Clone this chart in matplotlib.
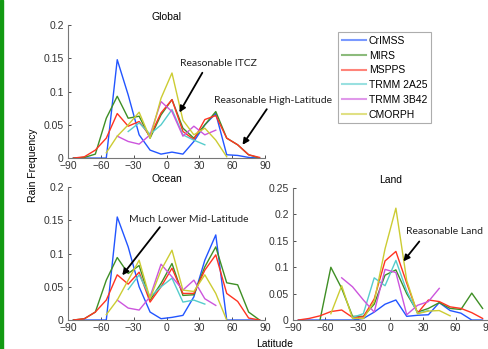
import matplotlib
matplotlib.use("Agg")
import matplotlib.pyplot as plt
from matplotlib.patches import Rectangle
import numpy as np

plt.rcParams["font.family"] = ["Liberation Sans", "DejaVu Sans"]

# Latitude bin centres (10 degree bins)
lat = np.arange(-85, 90, 10)
lat_trmm = np.arange(-35, 40, 10)
lat_3b42 = np.arange(-45, 50, 10)
lat_cmorph = np.arange(-55, 60, 10)

# ---- Global ----
g_crimss = [0, 0, 0, 0, 0.148, 0.095, 0.035, 0.012, 0.006, 0.009, 0.006, 0.025, 0.05, 0.067, 0.005, 0.004, 0.001, 0]
g_mirs = [0, 0.001, 0.006, 0.06, 0.093, 0.06, 0.063, 0.03, 0.065, 0.088, 0.045, 0.03, 0.05, 0.07, 0.03, 0.02, 0.005, 0]
g_mspps = [0, 0.002, 0.012, 0.03, 0.067, 0.048, 0.055, 0.033, 0.068, 0.088, 0.04, 0.028, 0.058, 0.064, 0.03, 0.02, 0.005, 0.001]
g_2a25 = [0.04, 0.053, 0.036, 0.05, 0.073, 0.035, 0.027, 0.02]
g_3b42 = [0.033, 0.025, 0.021, 0.035, 0.085, 0.07, 0.033, 0.048, 0.035, 0.042]
g_cmorph = [0.008, 0.033, 0.05, 0.069, 0.03, 0.09, 0.128, 0.057, 0.035, 0.045, 0.027, 0.002]

# ---- Ocean ----
o_crimss = [0, 0, 0, 0, 0.155, 0.11, 0.05, 0.012, 0.002, 0.004, 0.007, 0.035, 0.09, 0.128, 0, 0, 0, 0]
o_mirs = [0, 0.002, 0.012, 0.06, 0.094, 0.07, 0.082, 0.03, 0.055, 0.085, 0.037, 0.038, 0.08, 0.11, 0.056, 0.053, 0.012, 0]
o_mspps = [0, 0.002, 0.012, 0.03, 0.068, 0.054, 0.072, 0.027, 0.05, 0.078, 0.04, 0.04, 0.075, 0.098, 0.04, 0.028, 0.003, 0]
o_2a25 = [0.046, 0.068, 0.035, 0.05, 0.063, 0.027, 0.03, 0.024]
o_3b42 = [0.03, 0.018, 0.015, 0.035, 0.084, 0.065, 0.045, 0.06, 0.032, 0.022]
o_cmorph = [0.008, 0.03, 0.06, 0.09, 0.032, 0.075, 0.105, 0.045, 0.043, 0.068, 0.04, 0.0]

# ---- Land ----
l_crimss = [0, 0, 0, 0, 0, 0, 0.003, 0.015, 0.03, 0.038, 0.007, 0.009, 0.01, 0.033, 0.018, 0.013, 0, 0]
l_mirs = [np.nan, np.nan, 0, 0.1, 0.06, 0.007, 0.007, 0.03, 0.085, 0.095, 0.05, 0.015, 0.022, 0.033, 0.022, 0.02, 0.051, 0.022]
l_mspps = [0, 0.003, 0.008, 0.016, 0.019, 0.005, 0.006, 0.04, 0.112, 0.13, 0.07, 0.013, 0.038, 0.035, 0.025, 0.022, 0.014, 0.003]
l_2a25 = [0.005, 0.012, 0.08, 0.065, 0.113, 0.055, 0.013, 0.018]
l_3b42 = [0.08, 0.063, 0.038, 0.015, 0.096, 0.09, 0.01, 0.028, 0.035, 0.06]
l_cmorph = [0.012, 0.065, 0.003, 0.003, 0.035, 0.135, 0.212, 0.075, 0.012, 0.017, 0.018, 0.008]

names = ["CrIMSS", "MIRS", "MSPPS", "TRMM 2A25", "TRMM 3B42", "CMORPH"]
colors = ["#2255ff", "#3f8f25", "#ff3322", "#55cccc", "#cc55dd", "#cccc33"]
lats = [lat, lat, lat, lat_trmm, lat_3b42, lat_cmorph]

fig = plt.figure(figsize=(4.89, 3.49), dpi=100)
fig.patches.append(Rectangle((0, 0), 3 / 489, 1, transform=fig.transFigure,
                             color="#129a12", zorder=10))

ax_g = fig.add_axes([0.139, 0.547, 0.403, 0.381])
ax_o = fig.add_axes([0.139, 0.083, 0.403, 0.381])
ax_l = fig.add_axes([0.599, 0.083, 0.399, 0.378])

panels = [
    (ax_g, [g_crimss, g_mirs, g_mspps, g_2a25, g_3b42, g_cmorph], "Global", 0.2),
    (ax_o, [o_crimss, o_mirs, o_mspps, o_2a25, o_3b42, o_cmorph], "Ocean", 0.2),
    (ax_l, [l_crimss, l_mirs, l_mspps, l_2a25, l_3b42, l_cmorph], "Land", 0.25),
]

handles = []
for ax, series, title, ymax in panels:
    for x, y, c, n in zip(lats, series, colors, names):
        h, = ax.plot(x, y, color=c, lw=1.0, label=n)
        if ax is ax_g:
            handles.append(h)
    ax.set_xlim(-90, 90)
    ax.set_ylim(0, ymax)
    ax.set_xticks(np.arange(-90, 91, 30))
    ax.set_yticks(np.arange(0, ymax + 0.001, 0.05))
    ax.set_yticklabels(["0"] + [f"{v:g}" for v in np.arange(0.05, ymax + 0.001, 0.05)])
    ax.set_title(title, fontsize=7.5, pad=4)
    ax.tick_params(direction="in", labelsize=7.5, length=2, width=0.6, colors="#333333")
    ax.tick_params(axis="x", pad=2.2)
    ax.tick_params(axis="y", pad=3)
    for s in ["top", "right"]:
        ax.spines[s].set_visible(False)
    for s in ["left", "bottom"]:
        ax.spines[s].set_color("#777777")
        ax.spines[s].set_linewidth(0.8)

leg = fig.legend(handles=handles, loc="upper left", bbox_to_anchor=(0.681, 0.922),
                 fontsize=7.5, frameon=True, fancybox=False, handlelength=2.3,
                 handletextpad=0.3, labelspacing=0.45, borderpad=0.35)
leg.get_frame().set_edgecolor("#999999")
leg.get_frame().set_linewidth(0.8)
for line in leg.get_lines():
    line.set_alpha(0.6)
    line.set_linewidth(1.5)

arrow = dict(arrowstyle="-|>", color="black", lw=1.3, mutation_scale=9)
ann_font = dict(fontsize=7.5, family=["Lato", "DejaVu Sans"], color="#222222")
ax_g.annotate("", xy=(10.5, 0.065), xytext=(34, 0.132), arrowprops=arrow)
ax_g.text(47.5, 0.142, "Reasonable ITCZ", ha="center", va="center", **ann_font)
ax_g.annotate("", xy=(68, 0.0165), xytext=(93, 0.077), arrowprops=arrow,
              annotation_clip=False)
ax_g.text(97, 0.086, "Reasonable High-Latitude", ha="center", va="center",
          clip_on=False, **ann_font)
ax_o.annotate("", xy=(-42, 0.064), xytext=(-4.5, 0.143), arrowprops=arrow)
ax_o.text(20, 0.151, "Much Lower Mid-Latitude", ha="center", va="center", **ann_font)
ax_l.annotate("", xy=(10.3, 0.107), xytext=(28.2, 0.153), arrowprops=arrow)
ax_l.text(50.3, 0.168, "Reasonable Land", ha="center", va="center", **ann_font)

fig.text(33 / 489, 1 - 165 / 349, "Rain Frequency", rotation=90, ha="center",
         va="center", fontsize=7.5)
fig.text(275 / 489, 1 - 344 / 349, "Latitude", ha="center", va="center", fontsize=7.5)

fig.savefig("out.png", dpi=100)
